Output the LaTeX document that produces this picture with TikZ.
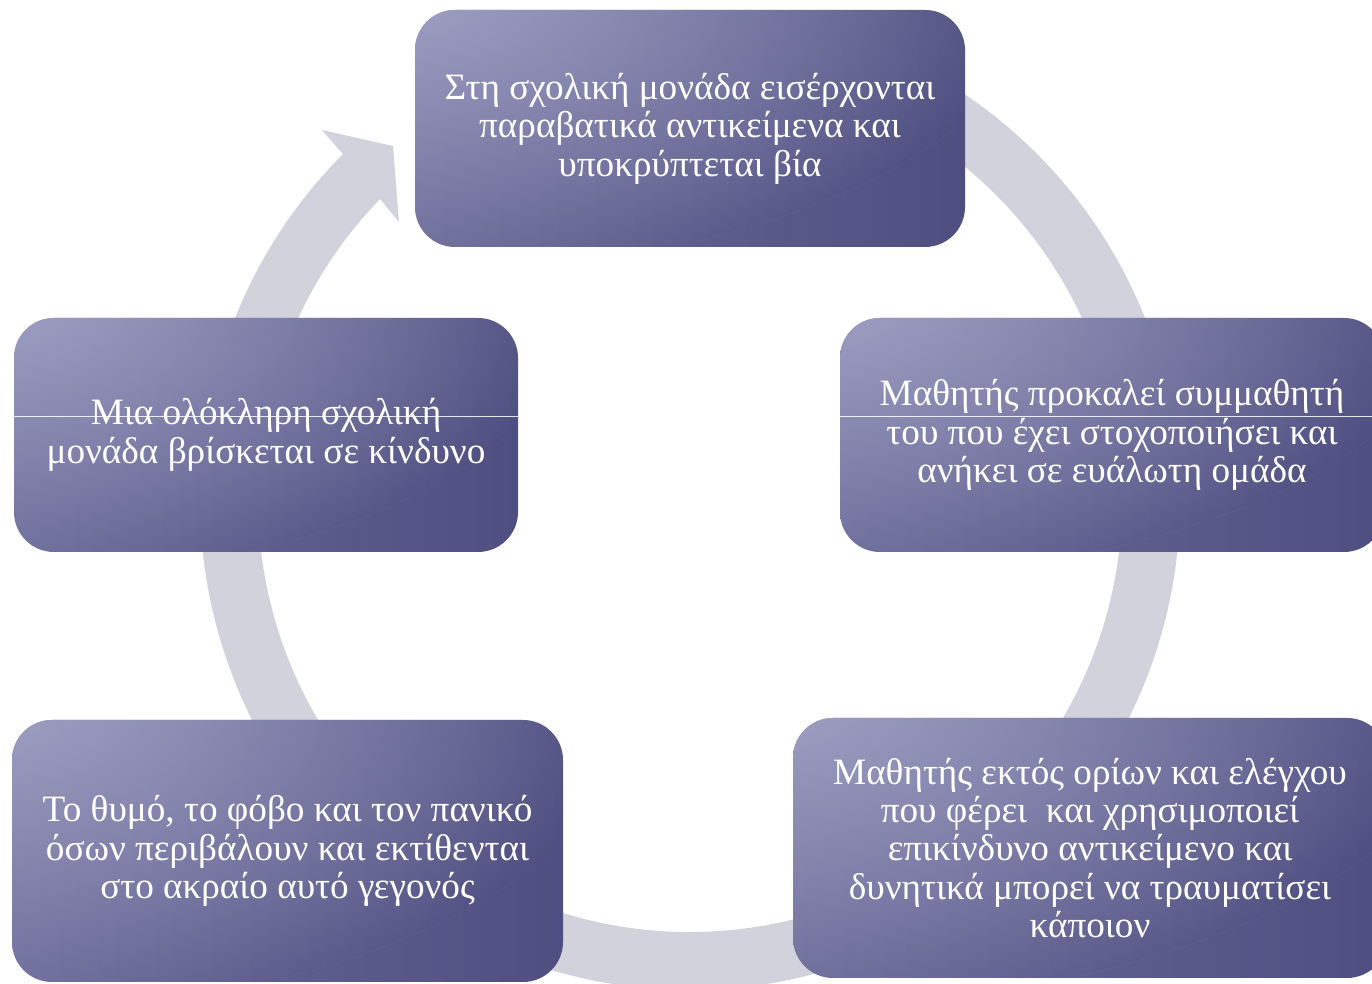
\documentclass[tikz,border=0pt]{standalone}
\usepackage{fontspec}
\setmainfont{Liberation Serif}
\usetikzlibrary{fadings}
\definecolor{ringgray}{RGB}{209,210,219}
\definecolor{boxglow}{RGB}{160,161,196}
\definecolor{boxleft}{RGB}{108,108,154}
\definecolor{boxdark}{RGB}{78,79,128}
\begin{tikzfadingfrompicture}[name=tlglow]
  \useasboundingbox (-1,-1) rectangle (1,1);
  \clip (-1,-1) rectangle (1,1);
  \shade[inner color=white, outer color=black] (-1,1) circle (2.1);
\end{tikzfadingfrompicture}
\tikzset{
  cyclebox/.style={rectangle, rounded corners=20pt, draw=none,
    left color=boxleft, right color=boxdark,
    path picture={\fill[boxglow, path fading=tlglow, fit fading=true]
      (path picture bounding box.south west) rectangle (path picture bounding box.north east);},
    text=white, align=center, inner sep=0pt,
    font=\fontsize{18.6}{19.2}\selectfont},
  ringline/.style={draw=ringgray, line width=29pt},
  ringhead/.style={fill=ringgray, draw=none},
  strike/.style={draw=white, line width=0.5pt, opacity=0.85}
}
\begin{document}
\begin{tikzpicture}[x=0.5pt,y=0.5pt]
\useasboundingbox (0,0) rectangle (1372,984);
% circular arrow (centre 690,484; mid radius 461 px)
\coordinate (c) at (690,484);
\draw[ringline] ([shift={(100:230.5pt)}]c) arc[start angle=100, end angle=-225, radius=230.5pt];
\fill[ringhead] (342,831) -- (322,854) -- (393,838) -- (399,762) -- (380,785) -- cycle;
% boxes
\node[cyclebox, minimum width=275pt, minimum height=118.5pt] (top) at (690,855.5)
  {Στη σχολική μονάδα εισέρχονται\\παραβατικά αντικείμενα και\\υποκρύπτεται βία};
\node[cyclebox, minimum width=272pt, minimum height=117pt] (right) at (1112,549)
  {Μαθητής προκαλεί συμμαθητή\\του που έχει στοχοποιήσει και\\ανήκει σε ευάλωτη ομάδα};
\node[cyclebox, minimum width=297pt, minimum height=130pt] (bright) at (1090,136)
  {Μαθητής εκτός ορίων και ελέγχου\\που φέρει~ και χρησιμοποιεί\\επικίνδυνο αντικείμενο και\\δυνητικά μπορεί να τραυματίσει\\κάποιον};
\node[cyclebox, minimum width=275.5pt, minimum height=131pt] (bleft) at (287.5,133)
  {Το θυμό, το φόβο και τον πανικό\\όσων περιβάλουν και εκτίθενται\\στο ακραίο αυτό γεγονός};
\node[cyclebox, minimum width=252pt, minimum height=117pt] (left) at (266,549)
  {Μια ολόκληρη σχολική\\μονάδα βρίσκεται σε κίνδυνο};
% thin white lines across the middle boxes
\draw[strike] (left.west |- 0,567) -- (left.east |- 0,567);
\draw[strike] (right.west |- 0,567) -- (right.east |- 0,567);
\end{tikzpicture}
\end{document}
